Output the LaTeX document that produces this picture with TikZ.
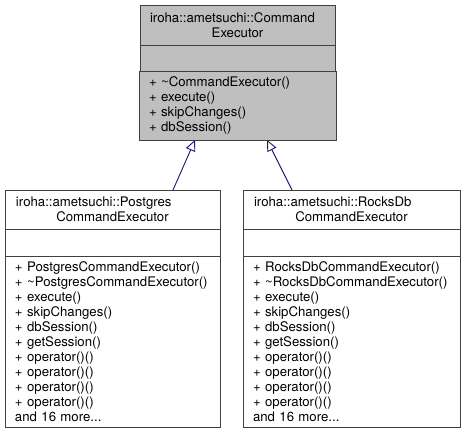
\documentclass[tikz,border=0pt]{standalone}
\usepackage{fontspec}
\setmainfont{TeX Gyre Heros}
\usepackage{tikz}
\usetikzlibrary{positioning, arrows.meta}
\definecolor{BaseGray}{HTML}{BFBFBF}
\definecolor{EdgeGray}{HTML}{404040}
\definecolor{InheritBlue}{HTML}{191970}

\tikzset{
  classbox/.style={draw=EdgeGray,line width=0.9pt,outer sep=0pt,inner xsep=10pt,inner ysep=0pt,
    font=\fontsize{13.2}{15}\selectfont},
  classhead/.style={classbox,align=center},
  classattr/.style={classbox},
  classmeth/.style={classbox,align=left},
  inherit/.style={draw=InheritBlue,line width=0.9pt,-{Triangle[open,length=11pt,width=10pt]}}
}

\begin{document}
\begin{tikzpicture}[x=1pt,y=-1pt]
\useasboundingbox (0,0) rectangle (467,433);

% base class
\node[classhead,fill=BaseGray,anchor=north west,minimum width=195pt,text width=175pt,minimum height=40pt]
  (cehead) at (140,5) {\makebox[\linewidth][l]{iroha::ametsuchi::Command}\\Executor};
\node[classattr,fill=BaseGray,below=0pt of cehead,minimum width=195pt,minimum height=26pt] (ceattr) {};
\node[classmeth,fill=BaseGray,below=0pt of ceattr,minimum width=195pt,text width=177pt,minimum height=69pt]
  (cemeth) {+ \textasciitilde CommandExecutor()\\+ execute()\\+ skipChanges()\\+ dbSession()};

% postgres
\node[classhead,fill=white,anchor=north west,minimum width=215pt,text width=193pt,minimum height=39pt]
  (pghead) at (5,190) {\makebox[\linewidth][l]{iroha::ametsuchi::Postgres}\\CommandExecutor};
\node[classattr,fill=white,below=0pt of pghead,minimum width=215pt,minimum height=27pt] (pgattr) {};
\node[classmeth,fill=white,below=0pt of pgattr,minimum width=215pt,text width=195pt,minimum height=171pt]
  (pgmeth) {+ PostgresCommandExecutor()\\+ \textasciitilde PostgresCommandExecutor()\\+ execute()\\+ skipChanges()\\+ dbSession()\\+ getSession()\\+ operator()()\\+ operator()()\\+ operator()()\\+ operator()()\\and 16 more...};

% rocksdb
\node[classhead,fill=white,anchor=north west,minimum width=217pt,text width=195pt,minimum height=39pt]
  (rdhead) at (243,190) {\makebox[\linewidth][l]{iroha::ametsuchi::RocksDb}\\CommandExecutor};
\node[classattr,fill=white,below=0pt of rdhead,minimum width=217pt,minimum height=27pt] (rdattr) {};
\node[classmeth,fill=white,below=0pt of rdattr,minimum width=217pt,text width=197pt,minimum height=171pt]
  (rdmeth) {+ RocksDbCommandExecutor()\\+ \textasciitilde RocksDbCommandExecutor()\\+ execute()\\+ skipChanges()\\+ dbSession()\\+ getSession()\\+ operator()()\\+ operator()()\\+ operator()()\\+ operator()()\\and 16 more...};

\draw[inherit] ([xshift=60.5pt]pghead.north) -- ([xshift=-42.5pt]cemeth.south);
\draw[inherit] ([xshift=-59.5pt]rdhead.north) -- ([xshift=29.5pt]cemeth.south);
\end{tikzpicture}
\end{document}
